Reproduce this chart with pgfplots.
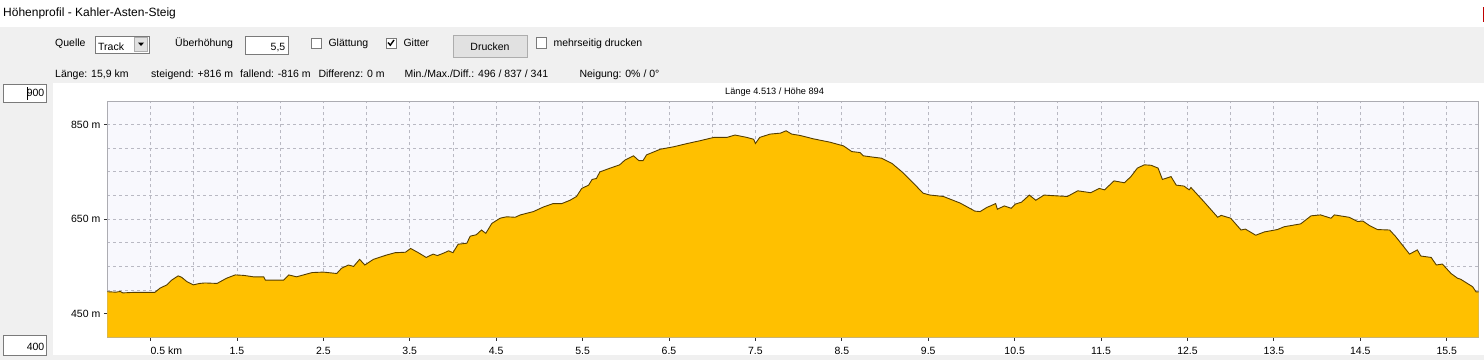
\documentclass[border=0pt]{standalone}
\usepackage{fontspec}
\setmainfont{Liberation Sans}
\usepackage{pgfplots}
\pgfplotsset{compat=1.18}
\usepackage{pgfplotstable}
\definecolor{guigray}{RGB}{240,240,240}
\definecolor{plotbg}{RGB}{248,248,253}
\definecolor{gridc}{RGB}{185,185,195}
\definecolor{boxc}{RGB}{172,172,178}
\definecolor{amber}{RGB}{255,192,0}
\definecolor{edge}{RGB}{85,62,0}
\definecolor{btn}{RGB}{225,225,225}
\definecolor{btnb}{RGB}{173,173,173}
\definecolor{fieldb}{RGB}{122,122,122}

\pgfplotstableread{
km h
0 496.5
0.10 495.5
0.15 497
0.18 494
0.30 495
0.45 495
0.55 495
0.61 504
0.69 511
0.745 521
0.82 530
0.86 527
0.92 518
0.995 511
1.07 514
1.13 515
1.27 514
1.38 525
1.48 532
1.58 531
1.69 528
1.81 528
1.83 521
2.04 521
2.10 532
2.19 528
2.37 537
2.50 538
2.655 535
2.71 546
2.79 553
2.85 550
2.92 565
2.98 553
3.08 565
3.23 574
3.33 579
3.45 580
3.51 588
3.60 579
3.69 569
3.77 576
3.82 573
3.89 578
3.95 583
4.00 579
4.06 597
4.16 599
4.20 614
4.27 617
4.33 627
4.38 620
4.45 641
4.545 652
4.62 655
4.72 654
4.78 659
4.93 666
5.05 676
5.16 683
5.26 683
5.355 690
5.43 698
5.49 715
5.57 722
5.61 734
5.66 736
5.70 750
5.82 758
5.93 765
5.99 775
6.09 784
6.15 774
6.20 774
6.24 786
6.40 798
6.55 803
6.71 810
6.86 816
7.02 823
7.17 823
7.265 828
7.40 823
7.48 819
7.50 810
7.55 823
7.67 830
7.79 832
7.855 837
7.92 830
8.02 827
8.17 820
8.36 813
8.52 805
8.615 793
8.71 791
8.75 784
8.87 781
8.96 779
9.08 768
9.21 748
9.33 726
9.44 705
9.52 701
9.675 698
9.87 684
10.04 667
10.10 666
10.18 675
10.22 678
10.28 683
10.30 671
10.38 678
10.46 673
10.51 682
10.58 686
10.67 701
10.745 690
10.84 701
10.92 700
11.11 698
11.23 710
11.38 706
11.48 715
11.54 712
11.65 731
11.77 727
11.845 740
11.92 758
12.00 765
12.08 764
12.16 758
12.21 734
12.31 740
12.37 722
12.46 720
12.52 712
12.54 717
12.69 687
12.85 654
12.89 658
13.00 652
13.12 627
13.17 629
13.29 616
13.39 623
13.54 628
13.62 634
13.81 640
13.93 657
14.04 659
14.16 652
14.20 659
14.37 654
14.47 645
14.53 646
14.61 636
14.70 628
14.84 627
14.91 613
15.07 576
15.16 585
15.20 572
15.32 569
15.38 553
15.45 555
15.55 535
15.625 525
15.66 523
15.80 507
15.84 496
15.87 496
}\profile

\begin{document}
\begin{tikzpicture}[x=1pt,y=1pt,font=\fontsize{10.5}{12}\selectfont]
\useasboundingbox (0,0) rectangle (1484,360);
\fill[white] (0,0) rectangle (1484,360);
\fill[guigray] (0,277) rectangle (1484,333);
\fill[guigray] (0,0) rectangle (53,277);
\fill[guigray] (0,0) rectangle (1484,5);
\fill[red!75!black] (1482.6,338) rectangle (1484,353);
\node[anchor=base west,inner sep=0,font=\fontsize{12}{14}\selectfont] at (3,343.5) {Höhenprofil - Kahler-Asten-Steig};

% row 1 controls
\node[anchor=base west,inner sep=0] at (55,314) {Quelle};
\filldraw[fill=white,draw=fieldb] (95,307) rectangle (149,324);
\filldraw[fill=btn,draw=btnb] (134.5,308.5) rectangle (147.5,322.5);
\fill (138,317.5) -- (144,317.5) -- (141,314) -- cycle;
\node[anchor=base west,inner sep=0] at (98,310) {Track};
\node[anchor=base west,inner sep=0] at (175,314) {Überhöhung};
\filldraw[fill=white,draw=fieldb] (245,306) rectangle (288,324);
\node[anchor=base east,inner sep=0] at (285.5,310) {5,5};
\filldraw[fill=white,draw=fieldb] (311,312) rectangle (321,322);
\node[anchor=base west,inner sep=0] at (328.3,313.3) {Glättung};
\filldraw[fill=white,draw=fieldb] (386,312) rectangle (396,322);
\draw[line width=1.4pt] (388,317.5) -- (390.3,314.8) -- (394,320);
\node[anchor=base west,inner sep=0] at (403.3,313.3) {Gitter};
\filldraw[fill=btn,draw=btnb] (453.3,303.3) rectangle (526.7,325);
\node[anchor=base,inner sep=0] at (490,310) {Drucken};
\filldraw[fill=white,draw=fieldb] (536,312) rectangle (546.5,323);
\node[anchor=base west,inner sep=0] at (553.3,313.3) {mehrseitig drucken};

% row 2 info
\node[anchor=base west,inner sep=0] at (55,282.7) {Länge: 15,9 km};
\node[anchor=base west,inner sep=0] at (151,282.7) {steigend: +816 m};
\node[anchor=base west,inner sep=0] at (240,282.7) {fallend: -816 m};
\node[anchor=base west,inner sep=0] at (318.3,282.7) {Differenz: 0 m};
\node[anchor=base west,inner sep=0] at (404.3,282.7) {Min./Max./Diff.: 496 / 837 / 341};
\node[anchor=base west,inner sep=0] at (579.3,282.7) {Neigung: 0\% / 0°};

% side boxes
\filldraw[fill=white,draw=fieldb] (3.3,258.3) rectangle (46,276);
\node[anchor=base east,inner sep=0] at (44.5,263.3) {900};
\draw[line width=0.8pt] (27.3,260.5) -- (27.3,273.5);
\filldraw[fill=white,draw=fieldb] (3.3,5) rectangle (46,25);
\node[anchor=base east,inner sep=0] at (44.5,10) {400};

% chart label
\node[anchor=base west,inner sep=0,font=\fontsize{9.2}{11}\selectfont] at (725,266) {Länge 4.513 / Höhe 894};

\begin{axis}[
  at={(107.3pt,22.7pt)}, anchor=south west,
  scale only axis, width=1371.4pt, height=236.3pt,
  xmin=0, xmax=15.87, ymin=400, ymax=900,
  axis background/.style={fill=plotbg},
  axis line style={draw=boxc},
  xtick={0.5,1.5,2.5,3.5,4.5,5.5,6.5,7.5,8.5,9.5,10.5,11.5,12.5,13.5,14.5,15.5},
  xticklabels={{\rlap{0.5 km}},1.5,2.5,3.5,4.5,5.5,6.5,7.5,8.5,9.5,10.5,11.5,12.5,13.5,14.5,15.5},
  minor xtick={1,2,3,4,5,6,7,8,9,10,11,12,13,14,15},
  ytick={450,650,850}, yticklabels={450 m,650 m,850 m},
  minor ytick={500,550,600,700,750,800},
  grid=both,
  major grid style={draw=gridc,dash pattern=on 3pt off 3pt,line width=0.8pt},
  minor grid style={draw=gridc,dash pattern=on 3pt off 3pt,line width=0.8pt},
  tick align=outside, major tick length=3.5pt, minor tick length=0pt,
  tick style={draw=black!80,line width=0.8pt},
  tick pos=left,
  ticklabel style={font=\fontsize{10.5}{12}\selectfont},
  xticklabel style={yshift=-2.5pt},
]
\addplot[fill=amber,draw=none] table[x=km,y=h] {\profile} \closedcycle;
\addplot[draw=edge,line width=0.9pt] table[x=km,y=h] {\profile};
\end{axis}
\end{tikzpicture}
\end{document}
